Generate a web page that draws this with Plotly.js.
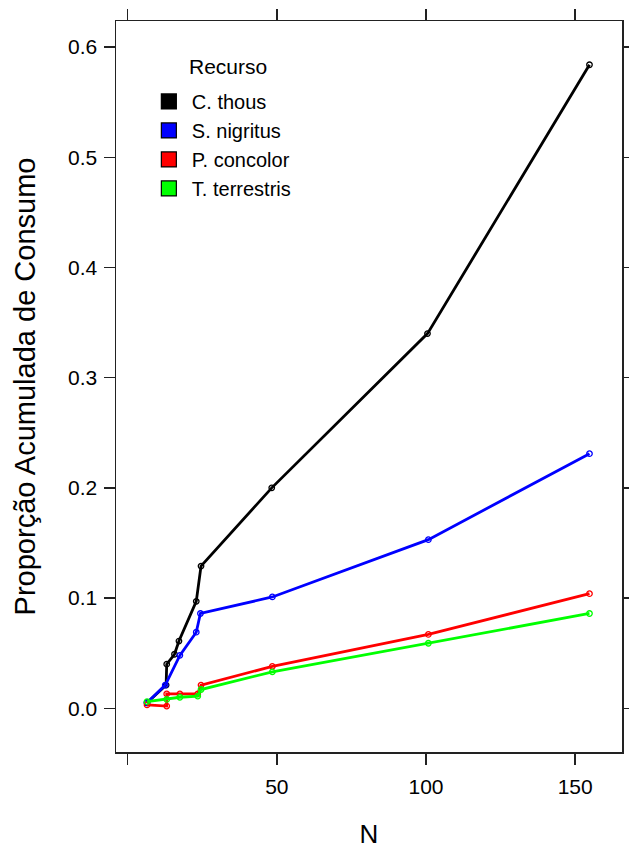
<!DOCTYPE html>
<html>
<head>
<meta charset="utf-8">
<script src="https://cdn.plot.ly/plotly-3.0.1.min.js"></script>
<style>html,body{margin:0;padding:0;background:#fff;} #chart{width:629px;height:851px;}</style>
</head>
<body>
<div id="chart"></div>
<script>
// ---- data ----
var seriesNames = ["C. thous", "S. nigritus", "P. concolor", "T. terrestris"];
var seriesColors = ["#000000", "#0000FF", "#FF0000", "#00FF00"];
var legendTitle = "Recurso";

var nThous = [6.5, 12.9, 13.1, 15.7, 17.2, 23.0, 24.6, 48.3, 100.5, 154.8];
var pThous = [0.005, 0.021, 0.040, 0.049, 0.061, 0.097, 0.129, 0.200, 0.340, 0.584];

var nNigritus = [6.5, 12.6, 17.5, 23.0, 24.4, 48.5, 100.8, 154.8];
var pNigritus = [0.005, 0.021, 0.048, 0.069, 0.086, 0.101, 0.153, 0.231];

var nConcolor = [6.5, 13.1, 13.1, 17.5, 23.5, 24.6, 48.5, 100.8, 154.8];
var pConcolor = [0.003, 0.002, 0.013, 0.013, 0.013, 0.021, 0.038, 0.067, 0.104];

var nTerrestris = [6.5, 13.1, 17.5, 23.5, 24.6, 48.5, 100.8, 154.8];
var pTerrestris = [0.006, 0.008, 0.010, 0.011, 0.017, 0.033, 0.059, 0.086];

var xTickVals = [0, 50, 100, 150];
var xTickText = ["", "50", "100", "150"];
var yTickVals = [0, 0.1, 0.2, 0.3, 0.4, 0.5, 0.6];
var yTickText = ["0.0", "0.1", "0.2", "0.3", "0.4", "0.5", "0.6"];

var xs = [nThous, nNigritus, nConcolor, nTerrestris];
var ys = [pThous, pNigritus, pConcolor, pTerrestris];

var FONT = "Liberation Sans, Arial, sans-serif";
var traces = [];
for (var i = 0; i < 4; i++) {
  traces.push({
    x: xs[i], y: ys[i], type: "scatter", mode: "lines+markers",
    line: {color: seriesColors[i], width: 2.8},
    marker: {symbol: "circle-open", size: 5.5, color: seriesColors[i], line: {width: 1.3, color: seriesColors[i]}},
    showlegend: false, hoverinfo: "skip"
  });
}
for (var j = 0; j < 4; j++) {
  traces.push({
    x: [null], y: [null], type: "scatter", mode: "markers", name: seriesNames[j],
    marker: {symbol: "square", size: 15, color: seriesColors[j], line: {width: 1.2, color: "#000"}},
    showlegend: true
  });
}

var layout = {
  width: 629, height: 851,
  margin: {l: 116, r: 7, t: 21, b: 99},
  paper_bgcolor: "#fff", plot_bgcolor: "#fff",
  font: {family: FONT, color: "#000"},
  showlegend: true,
  legend: {
    x: 0.059, y: 0.9167, xanchor: "left", yanchor: "top",
    bgcolor: "rgba(0,0,0,0)", borderwidth: 0, itemwidth: 36,
    font: {family: FONT, size: 20, color: "#000"},
    tracegroupgap: 0
  },
  annotations: [{
    text: legendTitle, xref: "paper", yref: "paper", x: 0.141, y: 0.938,
    xanchor: "left", yanchor: "middle", showarrow: false,
    font: {family: FONT, size: 21, color: "#000"}
  }],
  xaxis: {
    range: [-3.9, 165.7], autorange: false,
    tickmode: "array", tickvals: xTickVals, ticktext: xTickText,
    ticks: "outside", ticklen: 11, tickwidth: 1.5, tickcolor: "#222",
    showline: true, linecolor: "#222", linewidth: 1.5, mirror: "allticks",
    showgrid: false, zeroline: false, ticklabelstandoff: 4,
    tickfont: {family: FONT, size: 21, color: "#000"},
    title: {text: "N", font: {family: FONT, size: 26, color: "#000"}, standoff: 28}
  },
  yaxis: {
    range: [-0.0397, 0.6237], autorange: false,
    tickmode: "array", tickvals: yTickVals, ticktext: yTickText,
    ticks: "outside", ticklen: 11, tickwidth: 1.5, tickcolor: "#222",
    showline: true, linecolor: "#222", linewidth: 1.5, mirror: "allticks",
    showgrid: false, zeroline: false, ticklabelstandoff: 2,
    tickfont: {family: FONT, size: 21, color: "#000"},
    title: {text: "Proporção Acumulada de Consumo", font: {family: FONT, size: 29, color: "#000"}, standoff: 24}
  }
};

Plotly.newPlot("chart", traces, layout, {displayModeBar: false, staticPlot: true});
</script>
</body>
</html>
